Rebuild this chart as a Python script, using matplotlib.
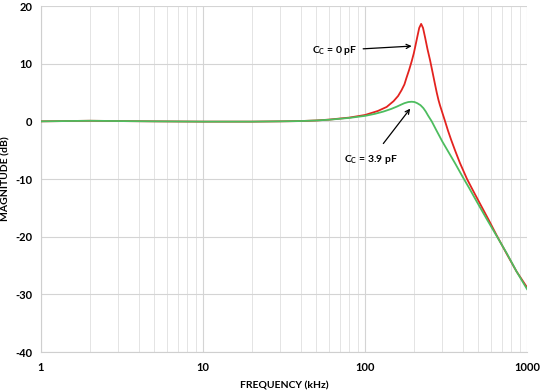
import matplotlib
matplotlib.use("Agg")
import matplotlib.pyplot as plt
from matplotlib.ticker import FixedLocator, NullFormatter

# Data
red_f = [1, 2, 3, 5, 10, 20, 30, 40, 50, 60, 80, 100, 120, 136, 150, 160, 168, 175, 180,
         187, 194, 200, 205, 210, 216, 222, 228, 235, 243, 252, 262, 270, 277, 284, 290,
         300, 312, 325, 340, 359, 385, 426, 460, 513, 580, 650, 750, 860, 1000]
red_db = [0, 0.1, 0.05, 0, -0.05, -0.05, 0, 0.05, 0.15, 0.3, 0.65, 1.1, 1.8, 2.5, 3.5,
          4.4, 5.4, 6.4, 7.5, 8.9, 10.4, 11.8, 13.2, 14.6, 16.2, 16.9, 16.2, 14.5, 12.5,
          10.6, 8.3, 6.5, 5.0, 3.7, 2.8, 1.5, 0.0, -1.6, -3.2, -5.0, -7.2, -10.0, -11.8,
          -14.3, -17.1, -19.8, -23.0, -26.0, -28.8]

green_f = [1, 2, 3, 5, 10, 20, 30, 40, 50, 60, 80, 100, 115, 130, 145, 157, 167, 175, 185,
           194, 202, 210, 220, 229, 237, 245, 258, 275, 300, 335, 360, 400, 440, 489, 560,
           650, 750, 860, 1000]
green_db = [0, 0.1, 0.05, 0, -0.05, -0.05, 0, 0.05, 0.15, 0.28, 0.6, 0.95, 1.3, 1.7, 2.15,
            2.55, 2.9, 3.15, 3.35, 3.4, 3.35, 3.15, 2.8, 2.3, 1.7, 1.0, 0.0, -1.5, -3.5,
            -5.8, -7.3, -9.6, -11.6, -13.9, -16.8, -19.9, -22.9, -26.0, -29.1]

x_ticks = [1, 10, 100, 1000]
x_tick_labels = ["1", "10", "100", "1000"]
y_ticks = [-40, -30, -20, -10, 0, 10, 20]

plt.rcParams['font.family'] = ['Lato', 'DejaVu Sans']

fig = plt.figure(figsize=(5.4, 3.9), dpi=100)
ax = fig.add_axes([0.076, 0.0974, 0.900, 0.8872])

ax.plot(red_f, red_db, color='#e3231f', lw=1.3, zorder=3, solid_joinstyle='round')
ax.plot(green_f, green_db, color='#4dbd5f', lw=1.3, zorder=4, solid_joinstyle='round')

ax.set_xscale('log')
ax.set_xlim(1, 1000)
ax.set_ylim(-40, 20)
ax.xaxis.set_major_locator(FixedLocator(x_ticks))
ax.set_xticklabels(x_tick_labels)
minors = [m * d for d in [1, 10, 100] for m in range(2, 10)]
ax.xaxis.set_minor_locator(FixedLocator(minors))
ax.xaxis.set_minor_formatter(NullFormatter())
ax.set_yticks(y_ticks)
ax.set_yticklabels([str(v) for v in y_ticks])

ax.grid(True, which='major', color='#d4d4d4', lw=0.8)
ax.grid(True, which='minor', axis='x', color='#e4e4e4', lw=0.7)
for s in ['top', 'right']:
    ax.spines[s].set_visible(False)
for s in ['left', 'bottom']:
    ax.spines[s].set_color('#cfcfcf')
    ax.spines[s].set_linewidth(0.8)
ax.tick_params(which='both', length=0)
ax.tick_params(axis='x', pad=7, labelsize=8)
ax.tick_params(axis='y', pad=6, labelsize=8)
for lab in ax.get_xticklabels() + ax.get_yticklabels():
    lab.set_fontweight('bold')

ax.set_xlabel('FREQUENCY (kHz)', fontsize=7.5, fontweight='bold')
ax.set_ylabel('MAGNITUDE (dB)', fontsize=7.5, fontweight='bold')
ax.xaxis.set_label_coords(0.5, -0.085)
ax.yaxis.set_label_coords(-0.063, 0.5)

ax.annotate(r'C$_\mathregular{C}$ = 0 pF', xy=(194, 13.05), xytext=(90, 12.3),
            ha='right', va='center', fontsize=7.5, fontweight='bold',
            arrowprops=dict(arrowstyle='->', color='black', lw=0.9,
                            shrinkA=2, shrinkB=0))
ax.annotate(r'C$_\mathregular{C}$ = 3.9 pF', xy=(190, 2.2), xytext=(109, -6.6),
            ha='center', va='center', fontsize=7.5, fontweight='bold',
            arrowprops=dict(arrowstyle='->', color='black', lw=0.9,
                            shrinkA=6, shrinkB=0))

fig.savefig('out.png', dpi=100)
